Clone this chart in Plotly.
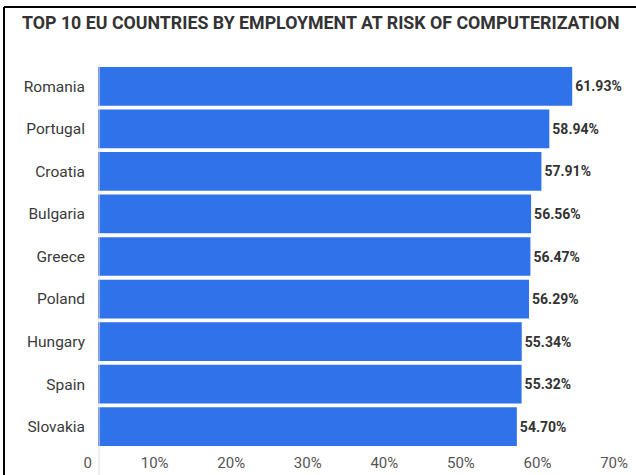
import plotly.graph_objects as go

countries = ["Romania", "Portugal", "Croatia", "Bulgaria", "Greece",
             "Poland", "Hungary", "Spain", "Slovakia"]
risk_pct = [61.93, 58.94, 57.91, 56.56, 56.47, 56.29, 55.34, 55.32, 54.70]
tick_vals = [0, 10, 20, 30, 40, 50, 60, 70]
tick_text = ["0", "10%", "20%", "30%", "40%", "50%", "60%", "70%"]
title_text = "TOP 10 EU COUNTRIES BY EMPLOYMENT AT RISK OF COMPUTERIZATION"

W, H = 636, 475
ML, MR, MT, MB = 98, 2, 65, 27

fig = go.Figure(go.Bar(
    x=risk_pct,
    y=countries,
    orientation="h",
    marker=dict(color="#2f72e9", line=dict(width=0)),
    text=[f"{v:.2f}%" for v in risk_pct],
    textposition="outside",
    textfont=dict(family="Roboto", size=14, color="#333333", weight="bold"),
    cliponaxis=False,
    hoverinfo="skip",
))

fig.update_layout(
    width=W, height=H,
    margin=dict(l=ML, r=MR, t=MT, b=MB, pad=0),
    paper_bgcolor="white",
    plot_bgcolor="white",
    bargap=0.09,
    showlegend=False,
    title=dict(
        text=title_text,
        font=dict(family="Roboto", size=17.8, color="#333333", weight="bold"),
        xref="container", yref="container",
        x=22 / W, xanchor="left",
        y=1 - 23 / H, yanchor="middle",
    ),
)

fig.update_xaxes(
    range=[0, 70],
    tickvals=tick_vals,
    ticktext=tick_text,
    showgrid=False,
    zeroline=False,
    showline=False,
    ticks="",
    ticklabelposition="outside left",
    ticklabelshift=-6,
    ticklabelstandoff=4,
    tickfont=dict(family="Roboto", size=15, color="#555555"),
    fixedrange=True,
)

fig.update_yaxes(
    autorange="reversed",
    showgrid=False,
    zeroline=False,
    showline=False,
    ticks="",
    ticklabelstandoff=12,
    tickfont=dict(family="Roboto", size=15.5, color="#3a3a3a"),
    fixedrange=True,
)

# y-axis line extending below the plot area, and the screenshot border
plot_h = H - MT - MB
plot_w = W - ML - MR
fig.add_shape(type="line", xref="paper", yref="paper",
              x0=0.002, x1=0.002, y0=-(MB) / plot_h, y1=1.0 + 1 / plot_h,
              line=dict(color="#dddddd", width=1))
fig.add_shape(type="line", xref="paper", yref="paper",
              x0=(4 - ML) / plot_w, x1=(4 - ML) / plot_w,
              y0=-(MB) / plot_h, y1=(H - 7 - MB) / plot_h,
              line=dict(color="black", width=2))
fig.add_shape(type="line", xref="paper", yref="paper",
              x0=(4 - ML) / plot_w, x1=(W - ML) / plot_w,
              y0=(H - 7 - MB) / plot_h, y1=(H - 7 - MB) / plot_h,
              line=dict(color="black", width=2))

fig.write_html("out.html")
